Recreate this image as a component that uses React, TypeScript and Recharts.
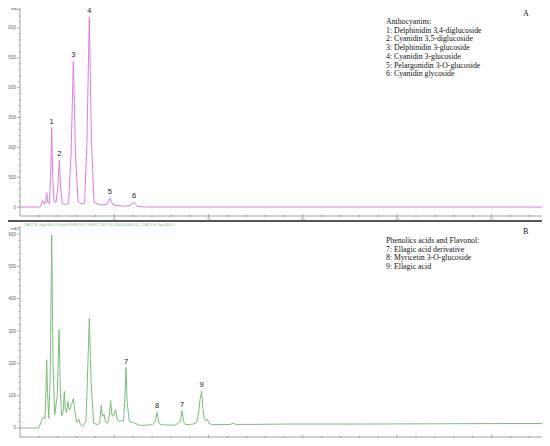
import { LineChart, Line, XAxis, YAxis, ReferenceDot } from 'recharts';

// Chromatogram A (520 nm) - retention time (min) / absorbance (mAU)
const timeA = [0, 2.0, 2.2, 2.4, 2.55, 2.7, 2.83, 2.95, 3.1, 3.25, 3.36, 3.47, 3.62, 3.8, 4.0, 4.17, 4.32, 4.5, 4.8, 5.15, 5.42, 5.66, 5.88, 6.15, 6.5, 6.85, 7.1, 7.35, 7.58, 7.85, 8.3, 8.8, 9.2, 9.54, 9.85, 10.5, 11.2, 11.7, 12.09, 12.45, 13.5, 56];
const signalA = [0, 0, 15, 110, 50, 60, 240, 70, 60, 500, 1330, 500, 90, 70, 300, 785, 300, 60, 40, 60, 900, 2440, 900, 90, 50, 60, 1100, 3180, 1100, 80, 45, 35, 40, 150, 40, 20, 15, 30, 80, 10, 0, 0];

// Chromatogram B (360 nm)
const timeB = [0, 2.0, 2.2, 2.35, 2.5, 2.65, 2.76, 2.83, 2.92, 3.05, 3.2, 3.36, 3.5, 3.68, 3.95, 4.14, 4.28, 4.42, 4.58, 4.7, 4.8, 4.92, 5.09, 5.2, 5.3, 5.5, 5.66, 5.85, 6.01, 6.15, 6.26, 6.4, 6.6, 7.0, 7.15, 7.35, 7.55, 7.8, 8.2, 8.45, 8.62, 8.72, 8.82, 8.91, 9.05, 9.3, 9.48, 9.61, 9.75, 9.92, 10.15, 10.3, 10.5, 10.78, 10.98, 11.12, 11.24, 11.36, 11.6, 12.0, 12.7, 13.5, 14.0, 14.35, 14.53, 14.7, 14.9, 15.8, 16.5, 17.0, 17.18, 17.35, 17.55, 18.4, 18.75, 19.0, 19.09, 19.26, 19.4, 19.55, 19.72, 19.87, 20.05, 20.4, 22.3, 22.62, 22.9, 25, 28, 35, 45, 56];
const signalB = [0, 0, 15, 30, 34, 28, 120, 211, 110, 30, 150, 598, 200, 40, 100, 304, 110, 38, 50, 113, 60, 48, 82, 55, 57, 75, 91, 45, 18, 20, 27, 10, 5, 20, 150, 340, 140, 15, 10, 15, 70, 38, 36, 43, 20, 15, 40, 85, 40, 36, 57, 25, 20, 23, 20, 90, 187, 80, 20, 17, 8, 9, 10, 20, 48, 20, 10, 9, 9, 20, 54, 20, 10, 12, 18, 60, 88, 113, 60, 28, 22, 27, 14, 10, 11, 15, 11, 11, 12, 12, 13, 14];

const xTicks = [10, 20, 30, 40, 50];
const yTicksA = [0, 500, 1000, 1500, 2000, 2500, 3000];
const yTicksB = [0, 100, 200, 300, 400, 500, 600];

const peaksA = [
    { label: '1', t: 3.36, v: 1330 },
    { label: '2', t: 4.17, v: 785 },
    { label: '3', t: 5.66, v: 2440 },
    { label: '4', t: 7.35, v: 3180 },
    { label: '5', t: 9.54, v: 150 },
    { label: '6', t: 12.09, v: 80 },
];
const peaksB = [
    { label: '7', t: 11.24, v: 187 },
    { label: '8', t: 14.53, v: 48 },
    { label: '7', t: 17.18, v: 54 },
    { label: '9', t: 19.26, v: 113 },
];

const legendA = [
    'Anthocyanins:',
    '1: Delphinidin 3,4-diglucoside',
    '2: Cyanidin 3,5-diglucoside',
    '3: Delphinidin 3-glucoside',
    '4: Cyanidin 3-glucoside',
    '5: Pelargonidin 3-O-glucoside',
    '6: Cyanidin glycoside',
];
const legendB = [
    'Phenolics acids and Flavonol:',
    '7: Ellagic acid derivative',
    '8: Myricetin 3-O-glucoside',
    '9: Ellagic acid',
];

const PINK = '#e07ce0';
const GREEN = '#7dbd7d';
const AXIS = '#8a8a8a';

const zip = (t: number[], v: number[]) => t.map((x, i) => ({ t: x, v: v[i] }));

// minor ticks every 2 min, long ones at the labelled minutes
const xAllTicks = Array.from({ length: 28 }, (_, i) => (i + 1) * 2);

function XTick(props: any) {
    const { x, y, payload } = props;
    const major = xTicks.includes(payload.value);
    return (
        <g>
            <line x1={x} x2={x} y1={y - (major ? 2 : 1)} y2={y + (major ? 2 : 1)} stroke={AXIS} strokeWidth={0.7} />
            {major && (
                <text x={x} y={y + 4.6} textAnchor="middle" fontSize={3.8} fill="#666" fontFamily="Liberation Sans">
                    {payload.value}
                </text>
            )}
        </g>
    );
}

function makeYTick(majors: number[]) {
    return function YTick(props: any) {
        const { x, y, payload } = props;
        const major = majors.includes(payload.value);
        return (
            <g>
                <line x1={x - (major ? 3 : 1.5)} x2={x} y1={y} y2={y} stroke={AXIS} strokeWidth={0.7} />
                {major && (
                    <text x={x - 4} y={y + 1.5} textAnchor="end" fontSize={4.5} fill="#666" fontFamily="Liberation Sans">
                        {payload.value}
                    </text>
                )}
            </g>
        );
    };
}

interface PanelProps {
    data: { t: number; v: number }[];
    color: string;
    yDomain: [number, number];
    yMajor: number[];
    yMinorStep: number;
    peaks: { label: string; t: number; v: number }[];
    height: number;
    top: number;
    xAxisHeight: number;
}

function Panel({ data, color, yDomain, yMajor, yMinorStep, peaks, height, top, xAxisHeight }: PanelProps) {
    const yAll: number[] = [];
    for (let v = 0; v <= yDomain[1]; v += yMinorStep) yAll.push(v);
    return (
        <LineChart
            width={550}
            height={height}
            data={data}
            margin={{ top, right: 2, left: 6, bottom: 0 }}
            style={{ position: 'absolute', left: 0, top: 0 }}
        >
            <XAxis
                dataKey="t"
                type="number"
                domain={[0, 56]}
                ticks={xAllTicks}
                interval={0}
                height={xAxisHeight}
                tickSize={0}
                tickMargin={0}
                tickLine={false}
                tick={<XTick />}
                axisLine={{ stroke: AXIS, strokeWidth: 0.8 }}
                allowDataOverflow
            />
            <YAxis
                type="number"
                domain={yDomain}
                ticks={yAll}
                interval={0}
                width={14}
                tickSize={0}
                tickMargin={0}
                tickLine={false}
                tick={makeYTick(yMajor)}
                axisLine={{ stroke: AXIS, strokeWidth: 0.8 }}
                allowDataOverflow
            />
            <Line
                dataKey="v"
                type="linear"
                stroke={color}
                strokeWidth={1}
                dot={false}
                isAnimationActive={false}
            />
            {peaks.map((p, i) => (
                <ReferenceDot
                    key={i}
                    x={p.t}
                    y={p.v}
                    r={1}
                    fill="none"
                    stroke="none"
                    ifOverflow="visible"
                    label={{ value: p.label, position: 'top', offset: 3, fontSize: 7.5, fill: '#222', fontFamily: 'Liberation Sans' }}
                />
            ))}
        </LineChart>
    );
}

const headerStyle = (color: string): React.CSSProperties => ({
    position: 'absolute',
    left: 22,
    fontSize: 3.6,
    lineHeight: '4px',
    fontFamily: 'Liberation Sans',
    color,
    whiteSpace: 'nowrap',
});

const legendStyle: React.CSSProperties = {
    position: 'absolute',
    left: 386,
    fontFamily: 'Liberation Serif',
    fontSize: 7.8,
    lineHeight: '8.7px',
    color: '#111',
    whiteSpace: 'nowrap',
};

export default function App() {
    return (
        <div style={{ position: 'relative', width: 550, height: 446, margin: -8, background: '#fff', overflow: 'hidden' }}>
            {/* panel frames */}
            <div style={{ position: 'absolute', left: 2, top: 1, width: 546, height: 218, border: '1px solid #555' }} />
            <div style={{ position: 'absolute', left: 2, top: 221, width: 546, height: 221, border: '1px solid #555' }} />

            <div style={{ position: 'absolute', left: 0, top: 0, width: 550, height: 226 }}>
                <Panel
                    data={zip(timeA, signalA)}
                    color={PINK}
                    yDomain={[-150, 3350]}
                    yMajor={yTicksA}
                    yMinorStep={100}
                    peaks={peaksA}
                    height={226}
                    top={7}
                    xAxisHeight={10}
                />
            </div>
            <div style={{ position: 'absolute', left: 0, top: 220, width: 550, height: 226 }}>
                <Panel
                    data={zip(timeB, signalB)}
                    color={GREEN}
                    yDomain={[-28, 625]}
                    yMajor={yTicksB}
                    yMinorStep={20}
                    peaks={peaksB}
                    height={226}
                    top={6}
                    xAxisHeight={9}
                />
            </div>

            <div style={{ ...headerStyle(PINK), top: 2 }}>
                ▫ DAD1 C, Sig=520,4 Ref=off (ANTOCIANINAS\EXT 2017-05-23\002-0201.D) - DAD1 C, Sig=520,4
            </div>
            <div style={{ ...headerStyle(GREEN), top: 223 }}>
                ▫ DAD1 B, Sig=360,4 Ref=off (FENOLICOS\EXT 2017-05-24\003-0301.D) - DAD1 B, Sig=360,4
            </div>
            <div style={{ ...headerStyle('#666'), left: 11, top: 7 }}>mAU</div>
            <div style={{ ...headerStyle('#666'), left: 11, top: 227 }}>mAU</div>

            <div style={{ ...legendStyle, top: 18 }}>
                {legendA.map((l, i) => <div key={i}>{l}</div>)}
            </div>
            <div style={{ ...legendStyle, fontSize: 8, left: 523, top: 10 }}>A</div>

            <div style={{ ...legendStyle, top: 237 }}>
                {legendB.map((l, i) => <div key={i}>{l}</div>)}
            </div>
            <div style={{ ...legendStyle, fontSize: 8, left: 523, top: 228 }}>B</div>
        </div>
    );
}
